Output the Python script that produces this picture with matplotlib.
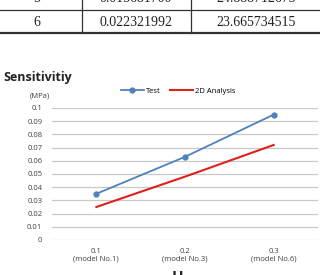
import matplotlib.pyplot as plt

# table rows (partially visible at the top of the picture)
table_rows = [
    ["5", "0.015681700", "24.888712673"],
    ["6", "0.022321992", "23.665734515"],
]

# chart data
categories = ["0.1\n(model No.1)", "0.2\n(model No.3)", "0.3\n(model No.6)"]
test_vals = [0.035, 0.063, 0.095]
analysis_vals = [0.025, 0.048, 0.072]
yticks = [0, 0.01, 0.02, 0.03, 0.04, 0.05, 0.06, 0.07, 0.08, 0.09, 0.1]

W, H = 320, 275
fig = plt.figure(figsize=(3.2, 2.75), dpi=100)


def fy(py):
    return 1 - py / H


# table part
serif = "Liberation Serif"
col_x = [37, 136, 256]
row_y = [-1, 22]
for row, py in zip(table_rows, row_y):
    for txt, px in zip(row, col_x):
        fig.text(px / W, fy(py), txt, ha="center", va="center",
                 fontsize=10, family=serif, color="#222222")
fig.add_artist(plt.Line2D([0, 1], [fy(10), fy(10)], color="#333333", lw=0.9))
fig.add_artist(plt.Line2D([0, 1], [fy(33), fy(33)], color="#333333", lw=1.6))
for px in [82, 191]:
    fig.add_artist(plt.Line2D([px / W, px / W], [fy(33), 1], color="#333333", lw=0.9))

# chart part
sans = "Open Sans"
ax = fig.add_axes([52 / W, fy(240), (318 - 52) / W, (240 - 108) / H])
x = range(len(categories))
ax.plot(x, test_vals, color="#4F81BD", lw=1.3, marker="o", ms=3.5, label="Test")
ax.plot(x, analysis_vals, color="#E0201B", lw=1.5, label="2D Analysis")
ax.set_xlim(-0.5, len(categories) - 0.5)
ax.set_ylim(0, 0.1)
ax.set_yticks(yticks)
ax.set_yticklabels([f"{v:g}" for v in yticks], fontsize=5.5, family=sans, color="#404040")
ax.set_xticks(list(x))
ax.set_xticklabels(categories, fontsize=5.5, family=sans, color="#404040", linespacing=1.1)
ax.tick_params(length=0)
ax.tick_params(axis="y", pad=7)
ax.tick_params(axis="x", pad=6)
for s in ax.spines.values():
    s.set_visible(False)
ax.grid(axis="y", color="#C8C8C8", lw=0.9)
ax.set_axisbelow(True)

fig.text(3 / W, fy(78), "Sensitivitiy", fontsize=9, fontweight="bold", family=sans,
         ha="left", va="center", color="#222222")
fig.text(40 / W, fy(96), "(MPa)", fontsize=5.5, family=sans, ha="center", va="center",
         color="#404040")
fig.legend(loc="center", bbox_to_anchor=(178 / W, fy(91)), ncol=2, frameon=False,
           prop={"family": sans, "size": 5.5}, handlelength=3, columnspacing=1.2,
           handletextpad=0.3)
fig.text(172 / W, fy(270), "H", fontsize=11, fontweight="bold", family=sans,
         ha="left", va="top", color="#222222")

fig.savefig("out.png", dpi=100)
